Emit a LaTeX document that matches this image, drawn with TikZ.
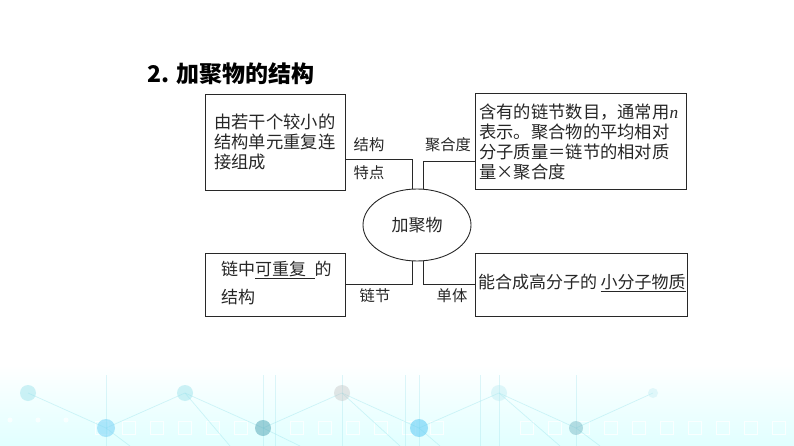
\documentclass[tikz,border=0pt]{standalone}
\usepackage{fontspec}
\setmainfont{Liberation Serif}
\newfontfamily\cjk{Noto Sans CJK SC}
\usetikzlibrary{shapes.geometric,calc}
\definecolor{linecol}{RGB}{40,40,40}
\definecolor{deco}{RGB}{150,225,235}
\definecolor{decod}{RGB}{90,170,185}
\tikzset{
  box/.style={draw=linecol,line width=0.9pt,rectangle,inner sep=0pt},
  boxtext/.style={anchor=west,align=left,inner sep=0pt,font=\cjk\fontsize{17.3}{19.8}\selectfont,text=black!85},
  lbl/.style={inner sep=0pt,font=\cjk\fontsize{15.3}{17}\selectfont,text=black!85},
  conn/.style={draw=linecol,line width=0.9pt},
  decoline/.style={draw=deco,line width=0.7pt,opacity=0.4},
}
\begin{document}
\begin{tikzpicture}[x=1pt,y=-1pt]
\useasboundingbox (0,0) rectangle (794,446);
% background decoration
\shade[top color=white,bottom color=cyan!12,draw=none] (0,365) rectangle (794,446);
\foreach \x in {95,122,150,178,206,234,290,318,346,374,402,430,520,548,576,604,632,660,688,716,744,772}
  \draw[draw=white,line width=0.8pt,opacity=0.8] (\x,421) rectangle ++(13,13);
\foreach \x in {10,38,66}
  \fill[white,opacity=0.7] (\x,420) circle (2.5);
\draw[decoline] (28,393) -- (106,428) -- (185,393) -- (263,428) -- (342,393) -- (419,428) -- (499,393) -- (576,428) -- (653,393);
\draw[decoline] (106,428) -- (130,446);
\draw[decoline] (185,393) -- (230,446);
\draw[decoline] (263,428) -- (300,446);
\draw[decoline] (342,393) -- (400,446);
\draw[decoline] (419,428) -- (440,446);
\draw[decoline] (499,393) -- (560,446);
\draw[decoline] (576,428) -- (600,446);
\foreach \x in {106,263,275,342,405,419,480,499,576}
  \draw[decoline,opacity=0.3] (\x,375) -- (\x,446);
\foreach \x/\y/\c/\r/\o in {28/393/deco/8/0.45,106/428/cyan!50/9/0.6,185/393/deco/8/0.45,263/428/decod/8/0.55,342/393/black!25/8/0.4,419/428/cyan!60/9/0.6,499/393/deco!70/8/0.4,576/428/decod!80/7/0.5,653/393/deco!60/5/0.4}
  \fill[\c,opacity=\o] (\x,\y) circle (\r);
% title
\node[anchor=west,inner sep=0pt,font=\cjk\bfseries\fontsize{23}{27}\selectfont] (title) at (147,74) {2. 加聚物的结构};
% boxes
\node[box,minimum width=140pt,minimum height=96pt] (tl) at (275,142) {};
\node[box,minimum width=211pt,minimum height=96pt] (tr) at (580.5,141) {};
\node[box,minimum width=140pt,minimum height=63pt] (bl) at (275,284.5) {};
\node[box,minimum width=212pt,minimum height=63pt] (br) at (581,284.5) {};
\node[draw=linecol,line width=0.9pt,ellipse,minimum width=108pt,minimum height=72pt,inner sep=0pt,font=\cjk\fontsize{17}{19}\selectfont,text=black!85] (el) at (417,225) {加聚物};
% box texts
\node[boxtext] (tltext) at (214,142) {由若干个较小的\\结构单元重复连\\接组成};
\node[boxtext] (trtext) at (479,142) {含有的链节数目，通常用{\rmfamily\itshape n}\\表示。聚合物的平均相对\\分子质量＝链节的相对质\\量×聚合度};
\node[boxtext,font=\cjk\fontsize{17}{28}\selectfont] (bltext) at (221,283) {链中\underline{可重复\hspace{0.5em}}的\\结构};
\node[boxtext,font=\cjk\fontsize{17}{19.8}\selectfont] (brtext) at (478,283) {能合成高分子的\hspace{0.2em}\underline{小分子物质}};
% connectors
\draw[conn] ([yshift=-17pt]tl.east) -| ([xshift=-4.5pt]el.north);
\draw[conn] ([yshift=-20pt]tr.west) -| ([xshift=6.5pt]el.north);
\draw[conn] (bl.east) -| ([xshift=-4.5pt]el.south);
\draw[conn] (br.west) -| ([xshift=6.5pt]el.south);
% labels
\node[lbl] (l1) at (369,145) {结构};
\node[lbl] (l2) at (369,173) {特点};
\node[lbl] (l3) at (448,145) {聚合度};
\node[lbl] (l4) at (375,296) {链节};
\node[lbl] (l5) at (452,296) {单体};
\end{tikzpicture}
\end{document}
